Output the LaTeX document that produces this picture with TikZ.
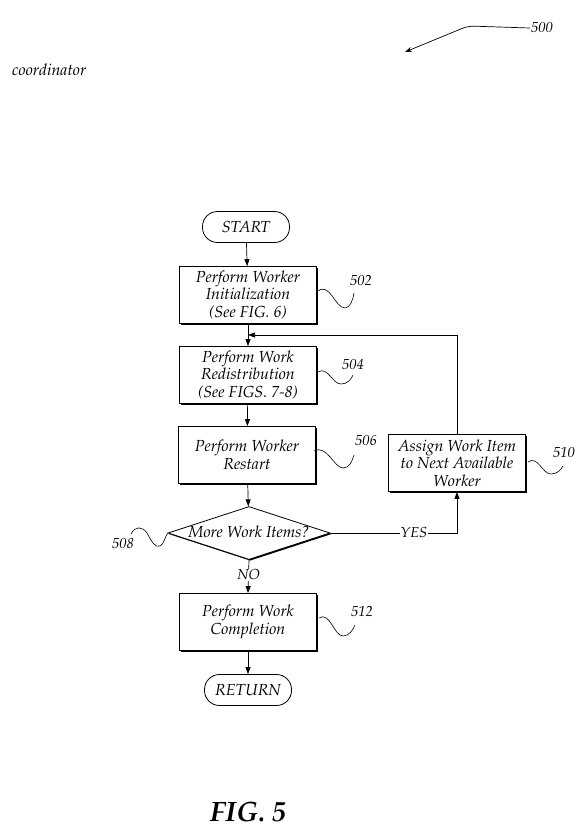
\documentclass[tikz,border=0pt]{standalone}
\usepackage[T1]{fontenc}
\usepackage{mathpazo}
\usetikzlibrary{shapes.geometric,arrows.meta,shadows}
\begin{document}
\begin{tikzpicture}[x=1pt,y=-1pt,
  txt/.style={font=\fontsize{16}{17.5}\selectfont\itshape},
  box/.style={txt,draw,line width=0.8pt,minimum width=137pt,minimum height=57pt,align=center,inner sep=1pt,fill=white,
    drop shadow={shadow xshift=1.4pt,shadow yshift=-1.4pt,opacity=1,fill=black}},
  term/.style={txt,draw,line width=0.8pt,rounded corners=15pt,minimum width=87pt,minimum height=31pt,fill=white},
  dia/.style={txt,diamond,draw,line width=0.8pt,aspect=3.05,inner sep=0pt,text height=8pt,text depth=0pt,minimum width=162pt,minimum height=53pt,fill=white,
    drop shadow={shadow xshift=1.2pt,shadow yshift=-1.2pt,opacity=1,fill=black}},
  lbl/.style={font=\fontsize{14.5}{16}\selectfont\itshape,inner sep=1pt},
  arr/.style={line width=0.7pt,-{Triangle[length=7pt,width=5pt]}},
  ln/.style={line width=0.7pt},
  sq/.style={line width=0.6pt}
]
\useasboundingbox (0,0) rectangle (582,833);

\node[term] (start) at (246,227) {START};
\node[box] (b502) at (248,295) {Perform Worker\\Initialization\\(See FIG. 6)};
\node[box] (b504) at (248,375) {Perform Work\\Redistribution\\(See FIGS. 7-8)};
\node[box] (b506) at (247,455) {Perform Worker\\Restart};
\node[dia] (d508) at (249,533) {More Work Items?};
\node[box] (b510) at (457,463) {Assign Work Item\\to Next Available\\Worker};
\node[box] (b512) at (248,622) {Perform Work\\Completion};
\node[term] (ret) at (248,690) {RETURN};
\coordinate (j) at (248,335);

\draw[arr] (start) -- (b502);
\draw[arr] (b502) -- (b504);
\draw[arr] (b504) -- (b506);
\draw[arr] (b506) -- (d508);
\draw[arr] (d508.east) -| node[pos=0.33,lbl,fill=white] {YES} (b510.south);
\draw[arr] (b510.north) |- (j);
\draw[arr] (d508.south) -- node[lbl,fill=white,pos=0.45] {NO} (b512.north);
\draw[arr] (b512) -- (ret);

% reference labels and leaders
\node[lbl] (l502) at (361,281) {502};
\node[lbl] (l504) at (353,365) {504};
\node[lbl] (l506) at (366,441) {506};
\node[lbl] (l510) at (564,453) {510};
\node[lbl] (l512) at (362,612) {512};
\node[lbl] (l508) at (123,544) {508};
\draw[sq] (318,291) .. controls (330,282) and (335,308) .. (345,308) .. controls (350,308) and (353,300) .. (354,293);
\draw[sq] (318,372) .. controls (328,366) and (332,384) .. (341,384) .. controls (347,384) and (351,380) .. (353,375);
\draw[sq] (314,451) .. controls (327,444) and (334,468) .. (343,468) .. controls (349,468) and (352,462) .. (354,455);
\draw[sq] (528,462) .. controls (538,455) and (542,474) .. (551,474) .. controls (557,474) and (561,470) .. (563,466);
\draw[sq] (319,618) .. controls (330,611) and (334,636) .. (343,636) .. controls (349,636) and (353,630) .. (355,625);
\draw[sq] (131,534) .. controls (135,526) and (142,526) .. (147,533) .. controls (152,542) and (155,548) .. (160,546) .. controls (164,544) and (165,537) .. (d508.west);

% figure number
\node[lbl] (l500) at (542,28) {500};
\draw[line width=0.7pt,rounded corners=6pt,-{Stealth[length=7pt,width=5pt]}] (l500.west) -- (468,26) -- (405,52);

\node[font=\fontsize{16}{18}\selectfont\itshape,anchor=base west,inner sep=0pt] (coord) at (12,75) {coordinator};
\node[font=\fontsize{28}{32}\selectfont\bfseries\itshape,anchor=base,inner sep=0pt] (fig) at (248,821) {FIG. 5};
\end{tikzpicture}
\end{document}
